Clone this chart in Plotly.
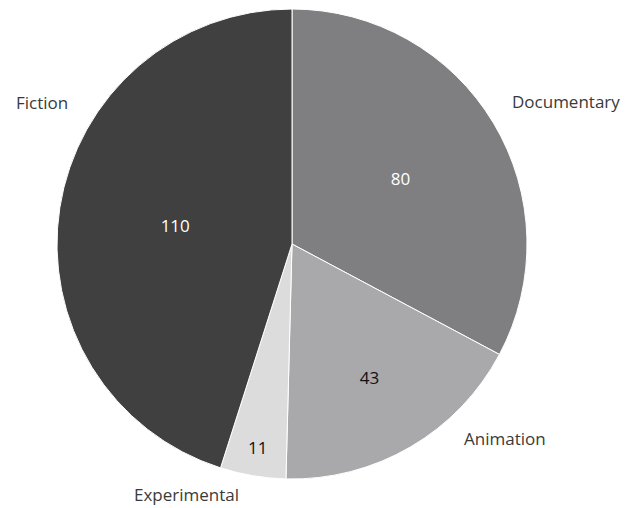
import plotly.graph_objects as go

categories = ["Documentary", "Animation", "Experimental", "Fiction"]
values = [80, 43, 11, 110]
slice_colors = ["#7f7f82", "#a9a9ab", "#dcdcdd", "#404040"]
value_text_colors = ["#ffffff", "#111111", "#111111", "#ffffff"]

W, H = 643, 508
cx, cy, r = 292, 244, 235

# category label placement in pixels (left edge x, middle y)
label_px = {
    "Documentary": (510, 102),
    "Animation": (462, 438),
    "Experimental": (132, 494),
    "Fiction": (14, 103),
}

FONT = "Open Sans"

fig = go.Figure()
fig.add_trace(go.Pie(
    labels=categories,
    values=values,
    sort=False,
    direction="clockwise",
    rotation=0,
    marker=dict(colors=slice_colors, line=dict(color="#ffffff", width=1)),
    textinfo="value",
    textposition="inside",
    insidetextorientation="horizontal",
    textfont=dict(family=FONT, size=17, color=value_text_colors),
    hoverinfo="label+value",
    showlegend=False,
    domain=dict(x=[(cx - r) / W, (cx + r) / W], y=[(H - cy - r) / H, (H - cy + r) / H]),
))

for name in categories:
    px, py = label_px[name]
    fig.add_annotation(
        x=px / W, y=1 - py / H, xref="paper", yref="paper", text=name, showarrow=False,
        xanchor="left", yanchor="middle",
        font=dict(family=FONT, size=17, color="#3a3a3a"),
    )

fig.update_layout(
    width=W, height=H,
    margin=dict(l=0, r=0, t=0, b=0),
    paper_bgcolor="#ffffff",
    plot_bgcolor="#ffffff",
)

fig.write_html("out.html")
